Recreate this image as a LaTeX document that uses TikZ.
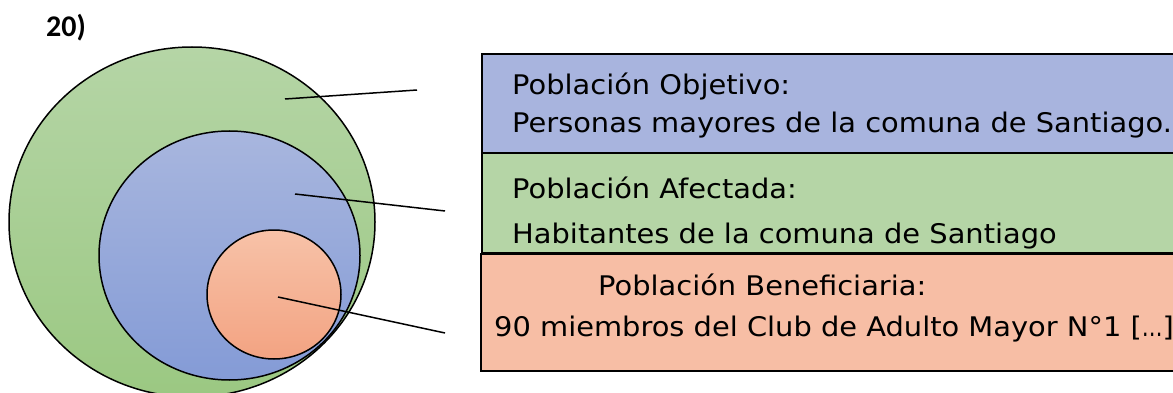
\documentclass[tikz,border=0pt]{standalone}
\usepackage{fontspec}
\usepackage{graphicx}
\setmainfont{DejaVu Sans}[FakeStretch=1.07]
\newfontfamily\numfont{Carlito}
\usetikzlibrary{shapes}
\usetikzlibrary{positioning}

\definecolor{verdeT}{RGB}{181,213,166}
\definecolor{verdeB}{RGB}{155,200,130}
\definecolor{azulT}{RGB}{168,182,222}
\definecolor{azulB}{RGB}{132,155,214}
\definecolor{naranjaT}{RGB}{247,194,168}
\definecolor{naranjaB}{RGB}{243,163,130}
\definecolor{cajaAzul}{RGB}{168,180,222}
\definecolor{cajaVerde}{RGB}{181,213,166}
\definecolor{cajaNaranja}{RGB}{247,190,165}

\begin{document}
\begin{tikzpicture}[x=1pt,y=-1pt]
					\tikzstyle{circulo}=[ellipse,draw,line width=1.5pt,inner sep=0pt]
					\tikzstyle{caja}=[rectangle,draw,line width=1.8pt,anchor=north west,minimum width=720pt,inner sep=0pt]
					\tikzstyle{texto}=[anchor=base west,inner sep=0pt,font=\fontsize{27}{32}\selectfont]
					\tikzstyle{guia}=[line width=1.5pt]
					\clip (0,0) rectangle (1173,393);
					
					\node[anchor=base west,inner sep=0pt,font=\numfont\bfseries\fontsize{30}{34}\selectfont] (num) at (46,37) {20)};
					
					% circulos
					\node[circulo,top color=verdeT,bottom color=verdeB,minimum width=366pt,minimum height=350pt] (objetivo) at (192,222) {};
					\node[circulo,top color=azulT,bottom color=azulB,minimum width=261pt,minimum height=249pt] (afectada) at (229.5,255.5) {};
					\node[circulo,top color=naranjaT,bottom color=naranjaB,minimum width=134pt,minimum height=129pt] (beneficiaria) at (274,294.5) {};
					
					% cajas
					\node[caja,fill=cajaAzul,minimum height=99pt] (cajaObj) at (481,53) {};
					\node[caja,fill=cajaVerde,minimum height=100pt] (cajaAfe) at (481,152) {};
					\node[caja,fill=cajaNaranja,minimum height=117pt,line width=2.2pt] (cajaBen) at (480,253) {};
					
					\node[texto] (tObj1) at (512,95) {Población Objetivo:};
					\node[texto] (tObj2) at (512,133) {Personas mayores de la comuna de Santiago.};
					\node[texto] (tAfe1) at (512,198) {Población Afectada:};
					\node[texto] (tAfe2) at (512,243) {Habitantes de la comuna de Santiago};
					\node[texto] (tBen1) at (598,295) {Población Beneficiaria:};
					\node[texto] (tBen2) at (494,336) {90 miembros del Club de Adulto Mayor N°1 [\scalebox{0.72}[1]{…}]};
					
					% lineas guia
					\coordinate (gObj1) at (285,99);
					\coordinate (gObj2) at (417,90);
					\coordinate (gAfe1) at (295,194);
					\coordinate (gAfe2) at (445,211);
					\coordinate (gBen1) at (278,297);
					\coordinate (gBen2) at (445,333);
					\draw[guia] (gObj1) -- (gObj2);
					\draw[guia] (gAfe1) -- (gAfe2);
					\draw[guia] (gBen1) -- (gBen2);
\end{tikzpicture}
\end{document}
